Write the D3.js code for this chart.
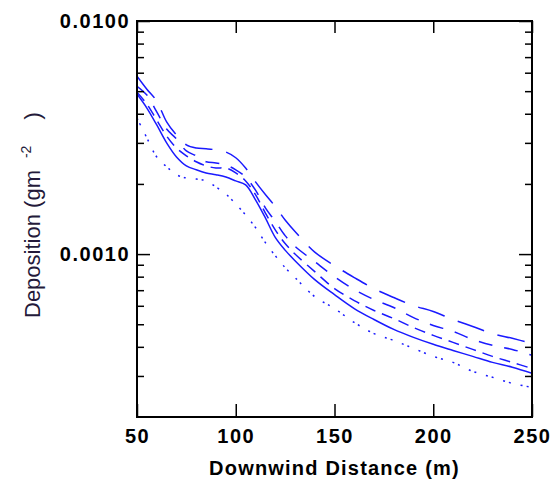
<html>
<script src='https://d3js.org/d3.v7.min.js'></script>
<style>
body {margin:0; background:#fff;}
.tick text {font-family:'Liberation Sans', Arial, sans-serif; font-size:20px; font-weight:bold; letter-spacing:1.5px; fill:#000;}
.tick line {stroke:#000; stroke-width:1.5;}
</style>
<body onload='init()'>
<svg width=555 height=481></svg>
<script>
// downwind distance (m)
const distance = [50,55,60,65,70,75,80,85,90,95,100,105,110,115,120,125,130,140,150,160,170,180,190,200,210,220,230,240,250];

// deposition (g m-2)
const longDash   = [0.00580,0.00510,0.00453,0.00369,0.00324,0.00294,0.00285,0.00283,0.00280,0.00274,0.00259,0.00234,0.00204,0.00180,0.00160,0.00140,0.00125,0.00102,0.000892,0.000793,0.000711,0.000651,0.000601,0.000567,0.000524,0.000489,0.000456,0.000435,0.000414];
const mediumDash = [0.00525,0.00481,0.00407,0.00344,0.00312,0.00277,0.00264,0.00249,0.00246,0.00241,0.00230,0.00214,0.00188,0.00158,0.00138,0.00120,0.00108,0.000928,0.000800,0.000704,0.000638,0.000590,0.000534,0.000494,0.000466,0.000430,0.000406,0.000390,0.000368];
const shortDash  = [0.00495,0.00440,0.00376,0.00321,0.00285,0.00264,0.00249,0.00239,0.00234,0.00234,0.00223,0.00206,0.00180,0.00150,0.00127,0.00111,0.00100,0.000841,0.000711,0.000632,0.000573,0.000529,0.000484,0.000448,0.000418,0.000390,0.000364,0.000343,0.000323];
const solidLine  = [0.00486,0.00423,0.00358,0.00300,0.00261,0.00239,0.00230,0.00223,0.00219,0.00214,0.00206,0.00198,0.00171,0.00143,0.00118,0.00104,0.000937,0.000777,0.000670,0.000584,0.000524,0.000475,0.000439,0.000410,0.000386,0.000364,0.000343,0.000327,0.000308];
const dottedLine = [0.00383,0.00315,0.00261,0.00237,0.00219,0.00212,0.00210,0.00206,0.00194,0.00181,0.00164,0.00147,0.00130,0.00112,0.000984,0.000875,0.000793,0.000657,0.000584,0.000509,0.000456,0.000426,0.000394,0.000364,0.000343,0.000314,0.000296,0.000279,0.000268];

const xTicks = [50,100,150,200,250];
const yTicks = [0.001,0.01];
const yMinor = [0.0003,0.0004,0.0005,0.0006,0.0007,0.0008,0.0009,0.002,0.003,0.004,0.005,0.006,0.007,0.008,0.009];

function init() {

var margin = {left:137, top:21, right:23, bottom:64};
var width = 555 - margin.left - margin.right;
var height = 481 - margin.top - margin.bottom;

var x = d3.scaleLinear().domain([50,250]).range([0,width]);
var y = d3.scaleLog().domain([0.0002,0.01]).range([height,0]);

var svg = d3.select("svg").append("g")
    .attr("transform","translate(" + margin.left + "," + margin.top + ")");

svg.append("clipPath").attr("id","plot")
  .append("rect").attr("width",width).attr("height",height);

var series = [
  {values:longDash,   dash:"28,14"},
  {values:mediumDash, dash:"14,12"},
  {values:shortDash,  dash:"11,7"},
  {values:solidLine,  dash:null},
  {values:dottedLine, dash:"2,4,2,10"}
];

var line = d3.line()
    .x(function(d,i){ return x(distance[i]); })
    .y(function(d){ return y(d); })
    .curve(d3.curveCatmullRom.alpha(0.5));

svg.append("g").attr("clip-path","url(#plot)")
  .selectAll("path")
  .data(series)
  .enter().append("path")
    .attr("d",function(s){ return line(s.values); })
    .attr("fill","none")
    .attr("stroke","#1a1aff")
    .attr("stroke-width",1.5)
    .attr("stroke-dasharray",function(s){ return s.dash; });

// axes: ticks point inward
svg.append("g")
  .call(d3.axisLeft(y).tickValues(yTicks).tickFormat(d3.format(".4f")).tickSizeInner(-13).tickSizeOuter(0).tickPadding(7));
svg.append("g")
  .call(d3.axisLeft(y).tickValues(yMinor).tickFormat("").tickSizeInner(-7).tickSizeOuter(0));
svg.append("g").attr("transform","translate(" + width + ",0)")
  .call(d3.axisRight(y).tickValues(yTicks).tickFormat("").tickSizeInner(-13).tickSizeOuter(0));
svg.append("g").attr("transform","translate(" + width + ",0)")
  .call(d3.axisRight(y).tickValues(yMinor).tickFormat("").tickSizeInner(-7).tickSizeOuter(0));
svg.append("g").attr("transform","translate(0," + height + ")")
  .call(d3.axisBottom(x).tickValues(xTicks).tickFormat(d3.format("d")).tickSizeInner(-13).tickSizeOuter(0).tickPadding(12));
svg.append("g")
  .call(d3.axisTop(x).tickValues(xTicks).tickFormat("").tickSizeInner(-12).tickSizeOuter(0));

svg.selectAll(".domain").remove();

svg.append("rect")
    .attr("width",width).attr("height",height)
    .attr("fill","none").attr("stroke","#000").attr("stroke-width",2);

svg.append("text")
    .attr("x",width/2).attr("y",height + 58)
    .attr("text-anchor","middle")
    .style("font-family","'Liberation Sans', Arial, sans-serif")
    .style("font-size","20px").style("font-weight","bold").style("letter-spacing","1.2px")
    .text("Downwind Distance (m)");

var yt = d3.select("svg").append("text")
    .attr("transform","translate(40,318) rotate(-90)")
    .style("font-family","'Liberation Sans', Arial, sans-serif")
    .style("font-size","22px").attr("fill","#241a3a");
yt.append("tspan").text("Deposition (gm");
yt.append("tspan").attr("dx",12).attr("dy",-9).style("font-size","14px").text("-2");
yt.append("tspan").attr("dx",26).attr("dy",9).text(")");

}
</script>
</body>
</html>
